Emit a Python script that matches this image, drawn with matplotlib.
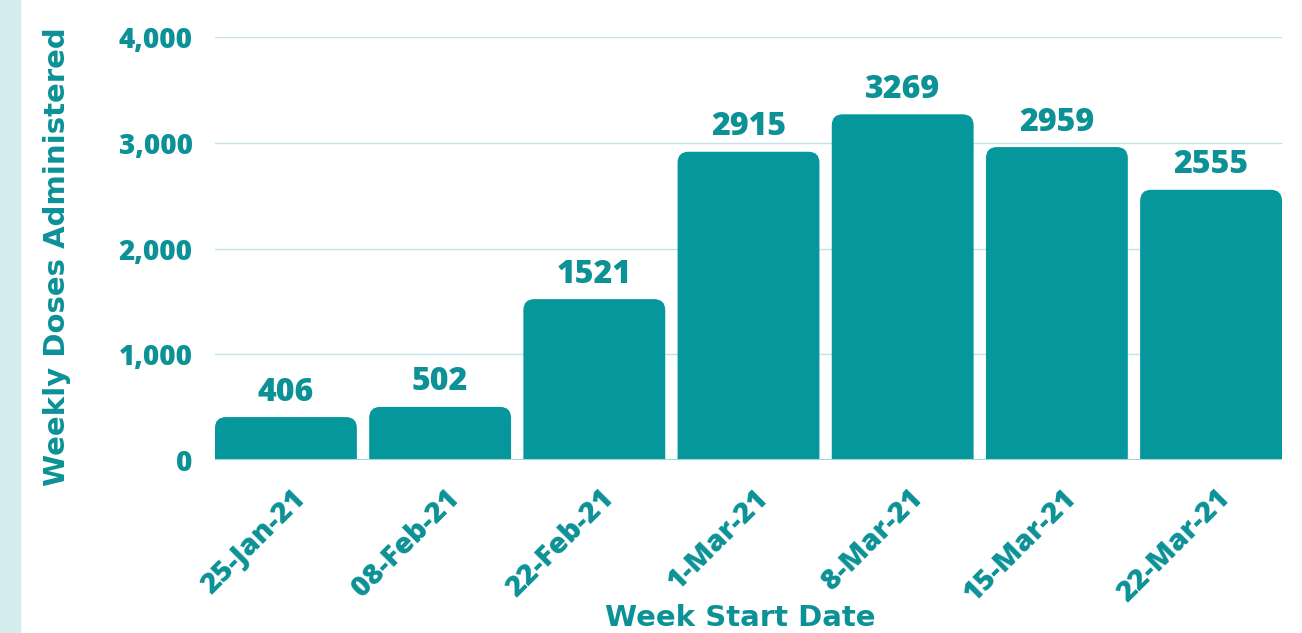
import matplotlib.pyplot as plt
from matplotlib.patches import FancyBboxPatch, Rectangle
from matplotlib.ticker import FuncFormatter
from matplotlib.transforms import ScaledTranslation

# data
weeks = ["25-Jan-21", "08-Feb-21", "22-Feb-21", "1-Mar-21", "8-Mar-21", "15-Mar-21", "22-Mar-21"]
doses = [406, 502, 1521, 2915, 3269, 2959, 2555]
y_ticks = [0, 1000, 2000, 3000, 4000]

bar_color = "#05979C"
text_color = "#0B9196"
grid_color = "#BFE5E7"

fig = plt.figure(figsize=(13.02, 6.33), dpi=100)
fig.patches.append(Rectangle((0, 0), 20 / 1302, 1, transform=fig.transFigure,
                             color="#D4ECEE", zorder=0))
ax = fig.add_axes([215 / 1302, 1 - 460 / 633, 1067 / 1302, 423 / 633])

x = list(range(len(weeks)))
width = 0.92
bars = ax.bar(x, doses, width=width, color=bar_color, zorder=2)
ax.set_xlim(-width / 2, len(weeks) - 1 + width / 2)
ax.set_ylim(0, 4000)

# rounded tops: swap each bar for a rounded box that goes below zero (clipped)
fig.canvas.draw()
px_x = ax.transData.transform((1, 0))[0] - ax.transData.transform((0, 0))[0]
px_y = ax.transData.transform((0, 1))[1] - ax.transData.transform((0, 0))[1]
r = 11 / px_x
for b in bars:
    b.set_visible(False)
    fb = FancyBboxPatch((b.get_x(), -300), b.get_width(), b.get_height() + 300,
                        boxstyle=f"round,pad=0,rounding_size={r}",
                        mutation_aspect=px_x / px_y,
                        facecolor=bar_color, edgecolor="none", zorder=2)
    ax.add_patch(fb)
    ax.text(b.get_x() + b.get_width() / 2, b.get_height() + 80, f"{b.get_height():.0f}",
            ha="center", va="bottom", fontsize=23, fontweight="heavy",
            family="Open Sans", color=text_color)

ax.set_yticks(y_ticks)
ax.yaxis.set_major_formatter(FuncFormatter(lambda v, p: f"{v:,.0f}"))
ax.grid(axis="y", color=grid_color, linewidth=1, zorder=0)
ax.axhline(0, color="#9FD6D8", linewidth=1.5, zorder=3)
for s in ax.spines.values():
    s.set_visible(False)
ax.tick_params(axis="both", length=0, colors=text_color)
ax.tick_params(axis="y", pad=16)

ax.set_xticks(x)
ax.set_xticklabels(weeks, rotation=45, ha="right", va="top", rotation_mode="anchor")
for lbl in ax.get_yticklabels():
    lbl.set_fontsize(20)
    lbl.set_fontweight("heavy")
    lbl.set_family("Open Sans")
for lbl in ax.get_xticklabels():
    lbl.set_fontsize(21)
    lbl.set_fontweight("heavy")
    lbl.set_family("Open Sans")
    lbl.set_transform(lbl.get_transform() + ScaledTranslation(
        5 / 100, -19 / 100, fig.dpi_scale_trans))

fig.text(57 / 1302, 1 - 257 / 633, "Weekly Doses Administered", rotation=90,
         ha="center", va="center", fontsize=21, fontweight="bold",
         family="DejaVu Sans", color=text_color)
fig.text(740 / 1302, 1 - 618 / 633, "Week Start Date", ha="center", va="center",
         fontsize=21, fontweight="bold", family="DejaVu Sans", color=text_color)

fig.savefig("out.png", dpi=100)
